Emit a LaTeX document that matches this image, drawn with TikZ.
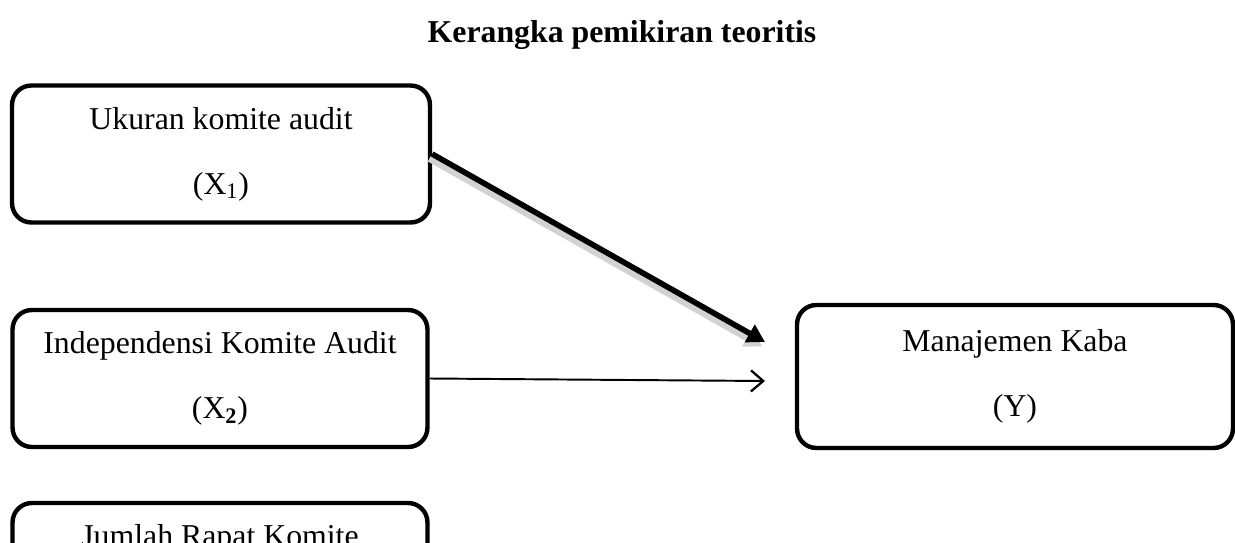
\documentclass[tikz,border=0pt]{standalone}
\usepackage{fontspec}
\setmainfont{Liberation Serif}
\usetikzlibrary{arrows.meta}

\tikzset{
  varbox/.style={draw, line width=2.5pt, rounded corners=11pt, align=center,
    font=\fontsize{18.1}{36.9}\selectfont, minimum width=8.3cm, minimum height=2.74cm, inner sep=0pt},
  bigarrow/.style={line width=3.2pt, -{Triangle[length=10pt,width=11pt]},
    preaction={draw=gray!35, line width=4pt, transform canvas={shift={(-1.5pt,-2.5pt)}}}},
  thinarrow/.style={line width=1.1pt, -{Straight Barb[length=7pt,width=12pt,line width=1.3pt]}}
}

\begin{document}
\begin{tikzpicture}[x=0.02cm,y=-0.02cm]
        \useasboundingbox (0,0) rectangle (1235,542);
        \node[anchor=base,font=\fontsize{18.1}{22}\selectfont\bfseries] (title) at (622,42) {Kerangka pemikiran teoritis};

        % independent variables
        \node[varbox, minimum width=8.36cm] (X1) at (221,154) {Ukuran komite audit\\(X\textsubscript{1})};
        \node[varbox] (X2) at (220,378.5) {Independensi Komite Audit\\(X\textsubscript{\textbf{2}})};
        \node[varbox, text depth=41pt] (X3) at (220,571.5) {Jumlah Rapat Komite};

        % dependent variable
        \node[varbox, minimum width=8.72cm, minimum height=2.86cm] (Y) at (1015,376.5) {Manajemen Kaba\\(Y)};

        \coordinate (in1) at (765,342);
        \coordinate (in2) at (765,381);
        \draw[bigarrow] (X1.east) -- (in1);
        \draw[thinarrow] (X2.east) -- (in2);
\end{tikzpicture}
\end{document}
